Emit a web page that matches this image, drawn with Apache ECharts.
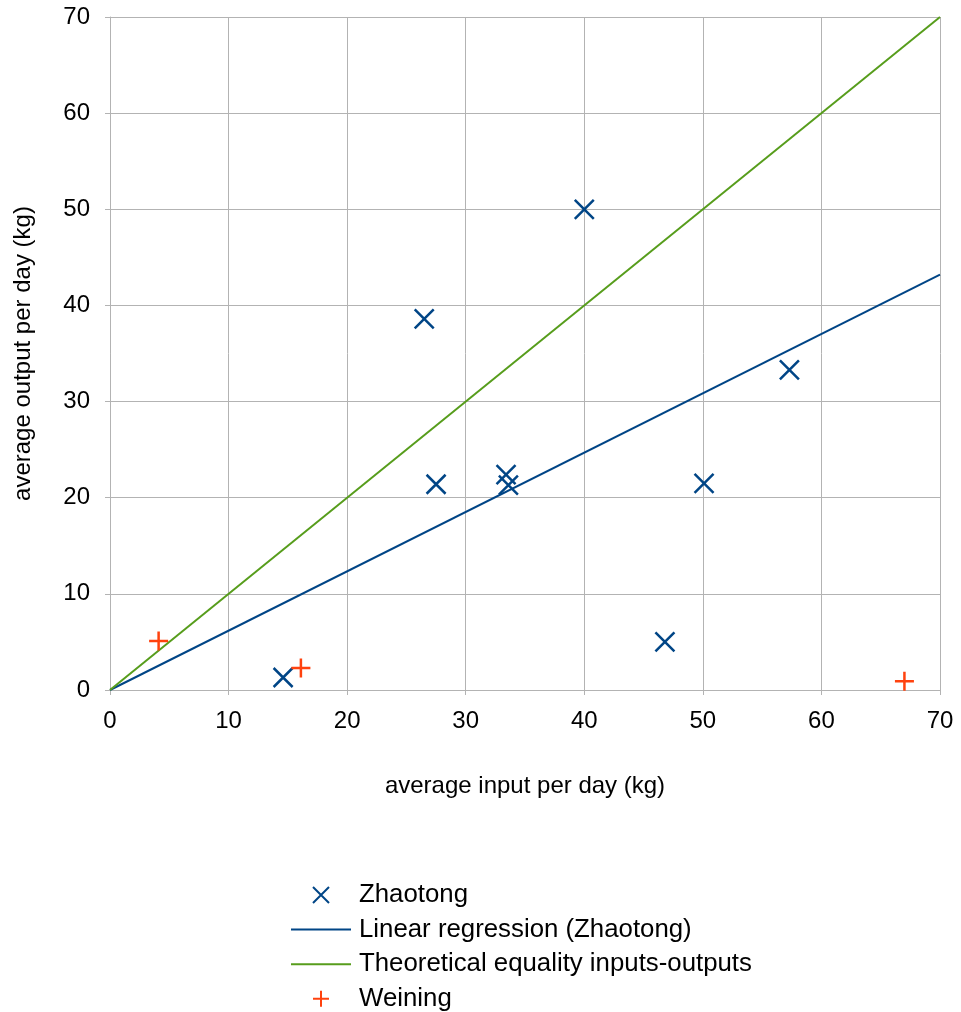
<!DOCTYPE html>
<html><head><meta charset="utf-8">
<script src="https://cdn.jsdelivr.net/npm/echarts@6/dist/echarts.min.js"></script>
<style>html,body{margin:0;padding:0;background:#fff}#c{width:961px;height:1012px}</style>
</head><body><div id="c"></div>
<script>
var zhaotong = [[14.6,1.3],[26.5,38.6],[27.5,21.4],[33.4,22.4],[33.6,21.3],[40.0,50.0],[50.1,21.5],[46.8,5.0],[57.3,33.3]];
var weining = [[4.1,5.1],[16.1,2.3],[67.0,0.9]];
var regression = [[0,0],[70,43.2]];
var equality = [[0,0],[70,70]];
var names = ['Zhaotong','Linear regression (Zhaotong)','Theoretical equality inputs-outputs','Weining'];
var crossPath = 'path://M0,0L10,10M10,0L0,10';
var plusPath = 'path://M5,0L5,10M0,5L10,5';
var font = 'Liberation Sans';
var chart = echarts.init(document.getElementById('c'));
var axisCommon = {
  min:0, max:70, interval:10,
  nameLocation:'middle',
  nameTextStyle:{fontFamily:font, fontSize:24, color:'#000'},
  axisLine:{show:true, lineStyle:{color:'#b3b3b3', width:1}},
  axisTick:{show:true, length:5, lineStyle:{color:'#b3b3b3'}},
  splitLine:{show:true, lineStyle:{color:'#b3b3b3', width:1}},
  axisLabel:{fontFamily:font, fontSize:24, color:'#000'}
};
chart.setOption({
  animation:false,
  grid:{left:110, right:21, top:17, bottom:322, containLabel:false, outerBoundsMode:'none'},
  xAxis:Object.assign({}, axisCommon, {type:'value', name:'average input per day (kg)', nameGap:84,
    axisLabel:Object.assign({}, axisCommon.axisLabel, {margin:19})}),
  yAxis:Object.assign({}, axisCommon, {type:'value', name:'average output per day (kg)', nameGap:75,
    axisLabel:Object.assign({}, axisCommon.axisLabel, {margin:20})}),
  legend:{orient:'vertical', left:290, top:882, height:300, padding:0, itemWidth:60, itemHeight:16, itemGap:8.6,
    textStyle:{fontFamily:font, fontSize:25.8, color:'#000', padding:[0,0,0,3]},
    data:[
      {name:names[0], icon:crossPath, itemStyle:{color:'transparent', borderColor:'#004586', borderWidth:2, opacity:1}},
      {name:names[1], itemStyle:{opacity:0}},
      {name:names[2], itemStyle:{opacity:0}},
      {name:names[3], icon:plusPath, itemStyle:{color:'transparent', borderColor:'#ff420e', borderWidth:2, opacity:1}}
    ]},
  series:[
    {name:names[0], type:'scatter', data:zhaotong, symbol:crossPath, symbolSize:19, z:5,
      itemStyle:{color:'transparent', borderColor:'#004586', borderWidth:2.5, opacity:1}},
    {name:names[1], type:'line', data:regression, symbol:'none', lineStyle:{color:'#004586', width:2}, itemStyle:{color:'#004586'}},
    {name:names[2], type:'line', data:equality, symbol:'none', lineStyle:{color:'#579d1c', width:2}, itemStyle:{color:'#579d1c'}},
    {name:names[3], type:'scatter', data:weining, symbol:plusPath, symbolSize:19, z:5,
      itemStyle:{color:'transparent', borderColor:'#ff420e', borderWidth:2.5, opacity:1}}
  ]
});
</script></body></html>
